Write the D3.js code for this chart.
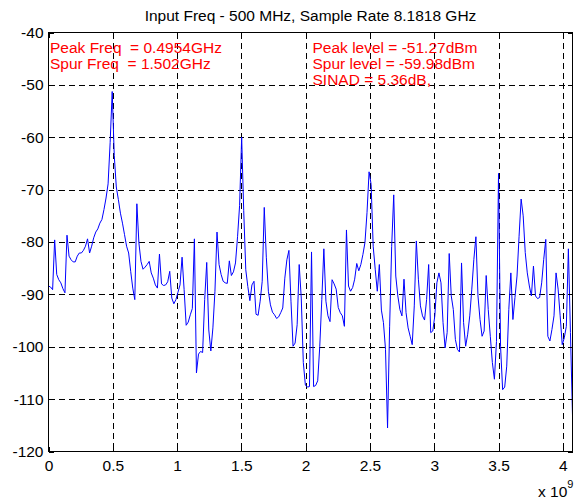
<!DOCTYPE html>
<html>
<head>
<meta charset="utf-8">
<script src="https://cdn.jsdelivr.net/npm/d3@7"></script>
<style>
  body { margin: 0; background: #fff; }
  svg { display: block; font-family: "Liberation Sans", Arial, sans-serif; }
</style>
</head>
<body>
<div id="chart"></div>
<script>
// spectrum settings, x axis in GHz (shown as x 10^9)
const fsGHz = 8.1818;
const nfft = 512;

// level of each FFT bin in dBm, bins 0..255
const levels = [
  -88.4, -88.6, -89.1, -79.6, -86.2, -87.2, -87.8, -88.9, -89.7, -78.7, -82.7, -83.4, -83.8, -83.8, -82.7, -82.1,
  -82.1, -81.6, -80.8, -79.4, -82.1, -80.8, -79.2, -78.1, -77.5, -76.4, -75.7, -73.8, -71.6, -68.9, -61.0, -51.27,
  -63.5, -69.5, -71.9, -74.5, -76.4, -78.6, -80.8, -82.1, -85.6, -88.8, -91.0, -72.7, -80.2, -83.7, -85.2, -84.8,
  -84.3, -83.7, -85.9, -86.9, -88.2, -88.8, -82.3, -88.0, -88.3, -88.2, -87.6, -85.6, -90.7, -91.8, -91.0, -89.6,
  -88.2, -82.9, -89.1, -95.9, -95.3, -93.9, -92.7, -79.4, -105.0, -101.4, -100.9, -101.1, -91.0, -83.9, -96.8, -100.8,
  -96.4, -89.4, -78.1, -84.3, -86.2, -87.5, -87.8, -87.9, -83.6, -86.4, -85.7, -84.0, -79.0, -73.0, -59.98, -74.0,
  -85.3, -88.5, -91.2, -88.2, -87.5, -93.8, -94.0, -91.3, -87.5, -73.4, -82.9, -89.4, -92.0, -93.4, -93.9, -94.6,
  -94.3, -93.5, -92.6, -86.9, -83.4, -81.6, -91.3, -99.9, -99.3, -95.8, -84.3, -90.7, -103.0, -107.3, -107.7, -107.6,
  -81.9, -107.6, -107.4, -106.5, -100.0, -91.0, -81.3, -91.3, -94.1, -95.2, -87.2, -88.0, -89.0, -92.5, -93.5, -94.1,
  -96.1, -77.7, -88.4, -89.4, -88.7, -87.1, -84.1, -85.5, -84.3, -82.4, -80.1, -74.4, -66.6, -69.0, -80.8, -85.2,
  -89.4, -84.3, -93.0, -95.4, -100.5, -115.5, -96.2, -80.9, -71.0, -86.5, -90.3, -92.9, -94.1, -87.1, -93.5, -96.4,
  -98.0, -99.6, -92.2, -79.8, -87.1, -92.2, -94.1, -94.9, -91.0, -84.3, -97.3, -97.0, -94.1, -87.8, -85.9, -87.8,
  -95.4, -100.2, -97.3, -82.2, -90.3, -92.9, -98.6, -100.5, -101.0, -84.0, -95.4, -99.9, -97.6, -94.1, -89.0, -83.3,
  -79.0, -90.3, -94.8, -98.0, -97.0, -86.4, -92.9, -98.0, -103.0, -106.2, -99.0, -66.9, -100.0, -108.2, -107.7, -103.7,
  -92.9, -85.9, -94.8, -90.6, -86.5, -78.9, -71.8, -75.0, -82.0, -85.9, -88.4, -90.3, -84.6, -90.3, -90.8, -90.6,
  -87.8, -83.3, -79.5, -98.0, -98.9, -96.7, -94.1, -85.9, -89.0, -94.1, -99.6, -98.3, -96.1, -81.3, -97.3, -113.2
];

const xTicks = [0, 0.5, 1, 1.5, 2, 2.5, 3, 3.5, 4];
const yTicks = [-120, -110, -100, -90, -80, -70, -60, -50, -40];

const titleText = "Input Freq - 500 MHz, Sample Rate 8.1818 GHz";
const leftNotes = ["Peak Freq  = 0.4954GHz", "Spur Freq  = 1.502GHz"];
const rightNotes = ["Peak level = -51.27dBm", "Spur level = -59.98dBm", "SINAD = 5.36dB,"];

const width = 586, height = 501;
const plotLeft = 48.5, plotRight = 572.5, plotTop = 32.5, plotBottom = 451.5;
const fontSize = "15.5px";

const svg = d3.select("#chart").append("svg")
    .attr("width", width)
    .attr("height", height);

svg.append("rect").attr("width", width).attr("height", height).attr("fill", "#fff");

const data = levels.map((v, i) => ({ f: i * fsGHz / nfft, v }));

const x = d3.scaleLinear()
    .domain([0, d3.max(data, d => d.f)])
    .range([plotLeft, plotRight]);

const y = d3.scaleLinear()
    .domain([-120, -40])
    .range([plotBottom, plotTop]);

// dashed grid
const grid = svg.append("g")
    .attr("stroke", "#000")
    .attr("stroke-width", 1)
    .attr("stroke-dasharray", "6,4")
    .attr("shape-rendering", "crispEdges");

grid.selectAll(".gx")
    .data(xTicks.filter(t => t > 0))
    .enter().append("line")
    .attr("x1", d => Math.round(x(d)) + 0.5)
    .attr("x2", d => Math.round(x(d)) + 0.5)
    .attr("y1", plotTop)
    .attr("y2", plotBottom);

grid.selectAll(".gy")
    .data(yTicks.filter(t => t > -120 && t < -40))
    .enter().append("line")
    .attr("x1", plotLeft)
    .attr("x2", plotRight)
    .attr("y1", d => Math.round(y(d)) + 0.5)
    .attr("y2", d => Math.round(y(d)) + 0.5);

// spectrum trace
const line = d3.line()
    .x(d => x(d.f))
    .y(d => y(d.v));

svg.append("path")
    .datum(data)
    .attr("fill", "none")
    .attr("stroke", "#0000ff")
    .attr("stroke-width", 1)
    .attr("stroke-linejoin", "round")
    .attr("d", line);

// axes: ticks point inward on all four sides, plain hyphen for minus
const tickLen = 5;
const plain = d => String(d);

const xAxis = svg.append("g")
    .attr("transform", `translate(0,${plotBottom})`)
    .call(d3.axisBottom(x).tickValues(xTicks).tickSize(-tickLen).tickPadding(8).tickFormat(plain));

const xAxisTop = svg.append("g")
    .attr("transform", `translate(0,${plotTop})`)
    .call(d3.axisTop(x).tickValues(xTicks).tickSize(-tickLen).tickFormat(""));

const yAxis = svg.append("g")
    .attr("transform", `translate(${plotLeft},0)`)
    .call(d3.axisLeft(y).tickValues(yTicks).tickSize(-tickLen).tickPadding(5).tickFormat(plain));

const yAxisRight = svg.append("g")
    .attr("transform", `translate(${plotRight},0)`)
    .call(d3.axisRight(y).tickValues(yTicks).tickSize(-tickLen).tickFormat(""));

[xAxis, xAxisTop, yAxis, yAxisRight].forEach(g => {
    g.select(".domain").remove();
    g.selectAll("line").attr("stroke", "#000").attr("shape-rendering", "crispEdges");
    g.selectAll("text")
        .attr("fill", "#000")
        .style("font-size", fontSize)
        .style("font-family", "Liberation Sans, Arial, sans-serif");
});

// box around the plot
svg.append("rect")
    .attr("x", plotLeft)
    .attr("y", plotTop)
    .attr("width", plotRight - plotLeft)
    .attr("height", plotBottom - plotTop)
    .attr("fill", "none")
    .attr("stroke", "#000")
    .attr("stroke-width", 1)
    .attr("shape-rendering", "crispEdges");

// exponent label
const expo = svg.append("text")
    .attr("x", 538)
    .attr("y", 497)
    .attr("fill", "#000")
    .style("font-size", fontSize)
    .text("x 10");
expo.append("tspan")
    .attr("dy", -9)
    .style("font-size", "11px")
    .text("9");

// title
svg.append("text")
    .attr("x", (plotLeft + plotRight) / 2)
    .attr("y", 21)
    .attr("text-anchor", "middle")
    .attr("fill", "#000")
    .style("font-size", fontSize)
    .text(titleText);

// red annotations
svg.selectAll(".noteL")
    .data(leftNotes)
    .enter().append("text")
    .attr("x", 50)
    .attr("y", (d, i) => 52.5 + i * 16)
    .attr("fill", "#ff0000")
    .style("font-size", fontSize)
    .style("white-space", "pre")
    .text(d => d);

svg.selectAll(".noteR")
    .data(rightNotes)
    .enter().append("text")
    .attr("x", 312.5)
    .attr("y", (d, i) => 52.5 + i * 16)
    .attr("fill", "#ff0000")
    .style("font-size", fontSize)
    .style("white-space", "pre")
    .text(d => d);
</script>
</body>
</html>
